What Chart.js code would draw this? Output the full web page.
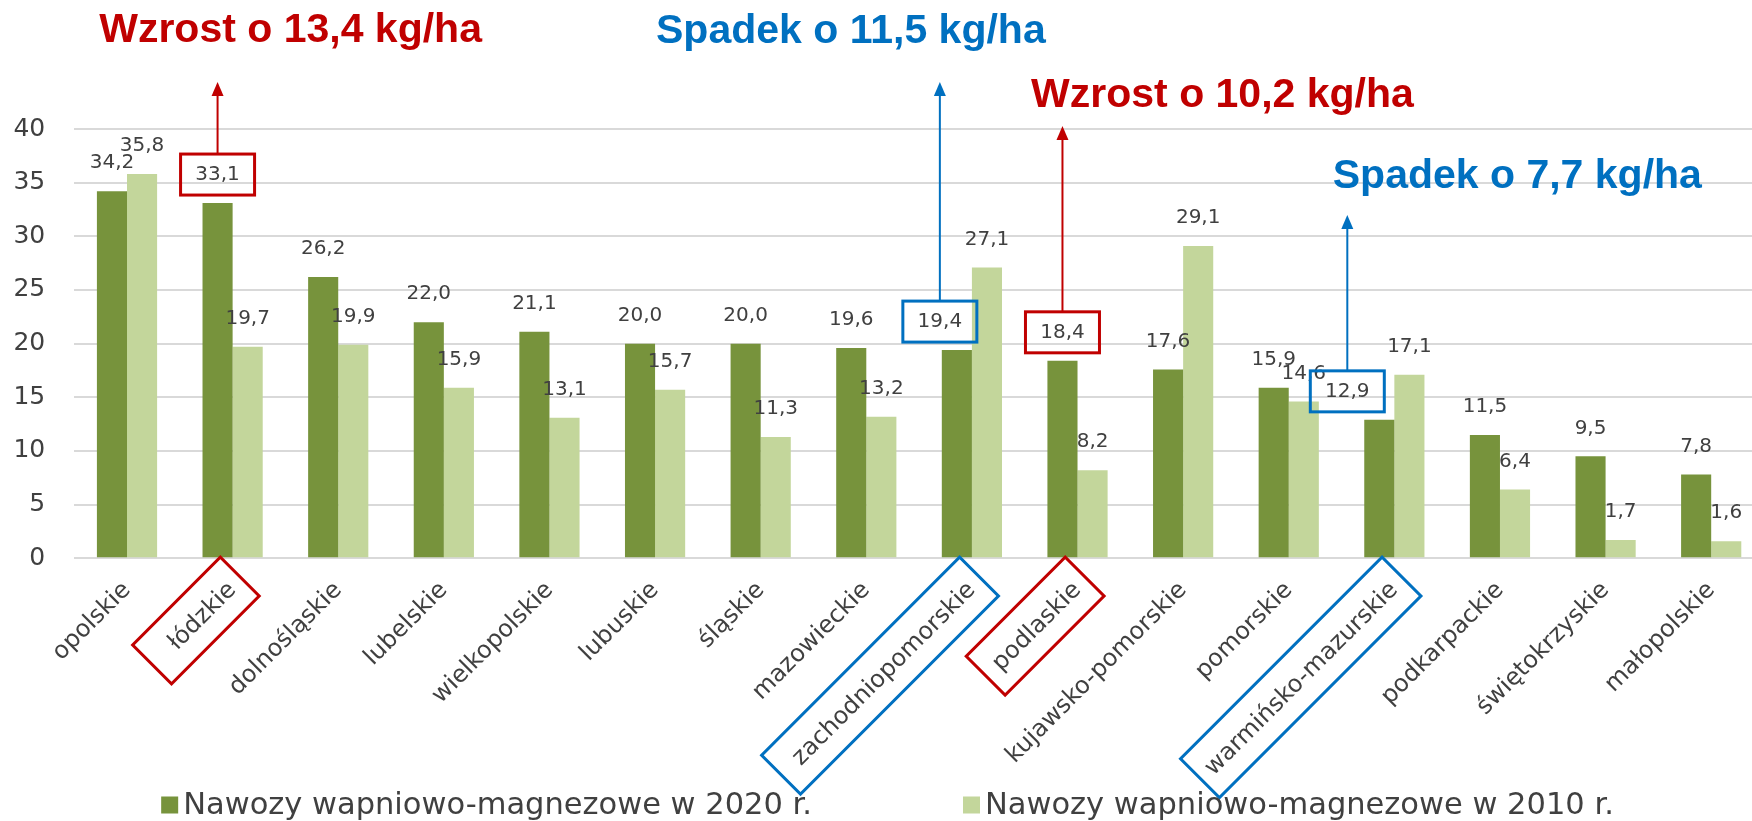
<!DOCTYPE html>
<html lang="pl">
<head>
<meta charset="utf-8">
<title>Nawozy wapniowo-magnezowe</title>
<script src="https://cdn.jsdelivr.net/npm/chart.js@4.4.1/dist/chart.umd.min.js"></script>
<style>
    html, body { margin: 0; padding: 0; background: #ffffff; overflow: hidden; }
    #wrap { width: 1752px; height: 821px; overflow: hidden; }
</style>
</head>
<body>
<div id="wrap"><canvas id="content" width="1764" height="821"></canvas></div>
<script>
var voivodeships = ['opolskie', 'łódzkie', 'dolnośląskie', 'lubelskie', 'wielkopolskie', 'lubuskie', 'śląskie',
    'mazowieckie', 'zachodniopomorskie', 'podlaskie', 'kujawsko-pomorskie', 'pomorskie',
    'warmińsko-mazurskie', 'podkarpackie', 'świętokrzyskie', 'małopolskie'];
var values2020 = [34.2, 33.1, 26.2, 22.0, 21.1, 20.0, 20.0, 19.6, 19.4, 18.4, 17.6, 15.9, 12.9, 11.5, 9.5, 7.8];
var values2010 = [35.8, 19.7, 19.9, 15.9, 13.1, 15.7, 11.3, 13.2, 27.1, 8.2, 29.1, 14.6, 17.1, 6.4, 1.7, 1.6];
var seriesNames = ['Nawozy wapniowo-magnezowe w 2020 r.', 'Nawozy wapniowo-magnezowe w 2010 r.'];
var yMin = 0, yMax = 40, yStep = 5;

// callouts: category index, caption, colour
var notes = [
    {index: 1, text: 'Wzrost o 13,4 kg/ha', color: '#C00000', shift: 0, textDx: 73, baseline: 42, tip: 82, boxLen: 124},
    {index: 8, text: 'Spadek o 11,5 kg/ha', color: '#0070C0', shift: -17, textDx: -89, baseline: 43, tip: 82, boxLen: 280},
    {index: 9, text: 'Wzrost o 10,2 kg/ha', color: '#C00000', shift: 0, textDx: 160, baseline: 107, tip: 126, boxLen: 140},
    {index: 12, text: 'Spadek o 7,7 kg/ha', color: '#0070C0', shift: -32, textDx: 170, baseline: 188, tip: 215, boxLen: 285}
];

var dark = '#77933C', light = '#C3D69B', grey = '#404040';
var tickFont = 24, tickPad = 18;

function fmt(v) {
    return v.toFixed(1).replace('.', ',');
}

function noteFor(i) {
    var found = null;
    notes.forEach(function (n) { if (n.index == i) found = n; });
    return found;
}

var valueLabels = {
    id: 'valueLabels',
    afterDatasetsDraw: function (chart) {
        var ctx = chart.ctx;
        ctx.save();
        ctx.font = '20px "DejaVu Sans"';
        ctx.fillStyle = grey;
        ctx.textAlign = 'center';
        ctx.textBaseline = 'middle';
        chart.data.datasets.forEach(function (ds, d) {
            chart.getDatasetMeta(d).data.forEach(function (bar, j) {
                var n = noteFor(j);
                var dx = (n && d == 0) ? n.shift : 0;
                ctx.fillText(fmt(ds.data[j]), bar.x + dx, bar.y - 28);
            });
        });
        ctx.restore();
    }
};

var callouts = {
    id: 'callouts',
    afterDraw: function (chart) {
        var ctx = chart.ctx;
        var sc = chart.scales.x;
        var rot = -Math.PI / 4;
        var lh = tickFont * 1.2;
        ctx.save();
        notes.forEach(function (n) {
            var bar = chart.getDatasetMeta(0).data[n.index];
            var cx = bar.x + n.shift;
            var cy = bar.y - 28;
            ctx.strokeStyle = n.color;
            ctx.fillStyle = n.color;
            ctx.lineWidth = 3;
            // box round the value
            ctx.strokeRect(cx - 37, cy - 21, 74, 41);
            // arrow
            ctx.lineWidth = 2;
            ctx.beginPath();
            ctx.moveTo(cx, cy - 21);
            ctx.lineTo(cx, n.tip + 12);
            ctx.stroke();
            ctx.beginPath();
            ctx.moveTo(cx, n.tip);
            ctx.lineTo(cx - 6, n.tip + 14);
            ctx.lineTo(cx + 6, n.tip + 14);
            ctx.closePath();
            ctx.fill();
            // caption
            ctx.font = 'bold 41px "Liberation Sans", Arial, sans-serif';
            ctx.textAlign = 'center';
            ctx.textBaseline = 'alphabetic';
            ctx.fillText(n.text, cx + n.textDx, n.baseline);
            // box round the tick label
            ctx.save();
            ctx.translate(sc.getPixelForTick(n.index) + (lh / 2) * Math.sin(rot), sc.top + tickPad);
            ctx.rotate(rot);
            ctx.lineWidth = 3;
            ctx.strokeRect(12 - n.boxLen, -15, n.boxLen, 55);
            ctx.restore();
        });
        ctx.restore();
    }
};

var bottomLegend = {
    id: 'bottomLegend',
    afterDraw: function (chart) {
        var ctx = chart.ctx;
        var gap = 151, box = 17;
        ctx.save();
        ctx.font = '30.5px "DejaVu Sans"';
        ctx.textBaseline = 'middle';
        ctx.textAlign = 'left';
        var widths = chart.data.datasets.map(function (ds) {
            return box + 5 + ctx.measureText(ds.label).width;
        });
        var total = widths.reduce(function (a, b) { return a + b; }, 0) + gap * (widths.length - 1);
        var x = chart.width / 2 + 5.5 - total / 2;
        var y = chart.height - 16;
        chart.data.datasets.forEach(function (ds, i) {
            ctx.fillStyle = ds.backgroundColor;
            ctx.fillRect(x, y - box / 2, box, box);
            ctx.fillStyle = grey;
            ctx.fillText(ds.label, x + box + 5, y + 1);
            x += widths[i] + gap;
        });
        ctx.restore();
    }
};

function chart() {
    var ctx = document.getElementById('content').getContext('2d');
    new Chart(ctx, {
        type: 'bar',
        data: {
            labels: voivodeships,
            datasets: [
                {label: seriesNames[0], data: values2020, backgroundColor: dark},
                {label: seriesNames[1], data: values2010, backgroundColor: light}
            ]
        },
        options: {
            responsive: false,
            animation: false,
            devicePixelRatio: 1,
            layout: {padding: {top: 129, left: 0, right: 0, bottom: 0}},
            datasets: {bar: {categoryPercentage: 0.57, barPercentage: 1.0}},
            plugins: {legend: {display: false}, tooltip: {enabled: false}},
            scales: {
                x: {
                    grid: {display: false, drawTicks: false},
                    border: {display: false},
                    ticks: {
                        autoSkip: false, maxRotation: 45, minRotation: 45, padding: tickPad,
                        color: grey, font: {family: 'DejaVu Sans', size: tickFont}
                    },
                    afterFit: function (scale) { scale.height = 262.7; }
                },
                y: {
                    min: yMin, max: yMax,
                    grid: {color: '#D9D9D9', lineWidth: 2, drawTicks: false},
                    border: {display: false},
                    ticks: {
                        stepSize: yStep, padding: 29, color: grey,
                        font: {family: 'DejaVu Sans', size: 25}
                    },
                    afterFit: function (scale) { scale.width = 74.2; }
                }
            }
        },
        plugins: [valueLabels, callouts, bottomLegend]
    });
}

chart();
</script>
</body>
</html>
